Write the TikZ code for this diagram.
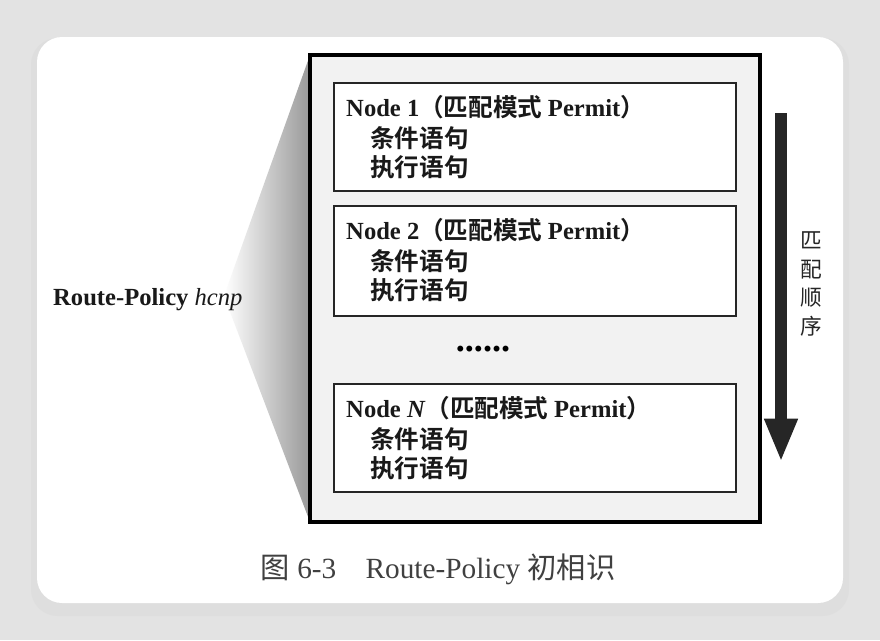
\documentclass[tikz,border=0pt]{standalone}
\usepackage{fontspec}
\setmainfont{Liberation Serif}
\newfontfamily\cjk{Noto Sans CJK SC}[BoldFont={Noto Sans CJK SC Bold}]
\usetikzlibrary{arrows.meta}

\newcommand{\cn}[1]{{\cjk #1}}

\begin{document}
\begin{tikzpicture}[x=0.03cm, y=-0.03cm, >=Triangle,
		box/.style={draw=black!85, line width=1.7pt, fill=white, anchor=north west, minimum width=12.06cm, inner sep=0pt},
		title/.style={anchor=base west, inner sep=0pt, font=\fontsize{21}{25}\selectfont\bfseries, text=black!90},
		stmt/.style={anchor=base west, inner sep=0pt, font=\fontsize{21}{25}\selectfont\cjk\bfseries, text=black!90}]
		% Page and card
		\fill[black!11] (0,0) rectangle (880,640);
		\useasboundingbox (0,0) rectangle (880,640);
		\fill[black!16, rounded corners=0.8cm] (33,40) rectangle (847,612);
		\fill[black!13, rounded corners=0.8cm] (31,38) rectangle (849,616);
		\fill[white, rounded corners=0.75cm] (37,37) rectangle (843,603);
		
		% Fan towards the frame, then the policy name
		\shade[left color=white, right color=black!40] (224,296) -- (310,55) -- (310,522) -- cycle;
		\node[anchor=base west, inner sep=0pt, font=\fontsize{21}{25}\selectfont, text=black!90] (policy) at (53,305) {\textbf{Route-Policy} \textit{hcnp}};
		
		% Frame
		\draw[line width=2.6pt, fill=black!5] (310,55) rectangle (760,522);
		
		% Node 1
		\node[box, minimum height=3.24cm] (nd1) at (333,82) {};
		\node[title] (t1) at (346,116) {Node 1\cn{（匹配模式 }Permit\cn{）}};
		\node[stmt] (c1) at (370,147) {条件语句};
		\node[stmt] (e1) at (370,176) {执行语句};
		
		% Node 2
		\node[box, minimum height=3.3cm] (nd2) at (333,205) {};
		\node[title] (t2) at (346,239) {Node 2\cn{（匹配模式 }Permit\cn{）}};
		\node[stmt] (c2) at (370,270) {条件语句};
		\node[stmt] (e2) at (370,299) {执行语句};
		
		\node[font=\fontsize{31}{31}\selectfont\bfseries] (dots) at (483,349) {......};
		
		% Node N
		\node[box, minimum height=3.24cm] (ndN) at (333,383) {};
		\node[title] (tN) at (346,417) {Node \textit{N}\cn{（匹配模式 }Permit\cn{）}};
		\node[stmt] (cN) at (370,448) {条件语句};
		\node[stmt] (eN) at (370,477) {执行语句};
		
		% Match order
		\coordinate (arrtop) at (781,113);
		\coordinate (arrbot) at (781,462);
		\draw[->, line width=0.35cm, black!85, -{Triangle[length=1.3cm, width=0.92cm]}] (arrtop) -- (arrbot);
		\node[align=center, font=\fontsize{18.5}{24.6}\selectfont\cjk, text=black!85] (order) at (811,284) {匹\\配\\顺\\序};
		
		% Caption
		\node[anchor=base, inner sep=0pt, font=\fontsize{25}{28}\selectfont, text=black!75] (caption) at (438,578) {\cn{图} 6-3\quad Route-Policy \cn{初相识}};
	\end{tikzpicture}
\end{document}
